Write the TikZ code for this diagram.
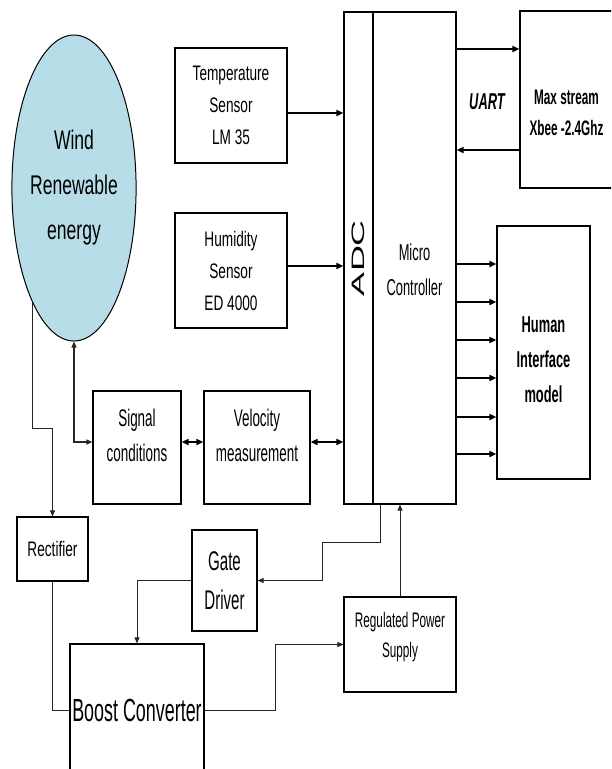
\documentclass[tikz,border=0pt]{standalone}
\usepackage{fontspec}
\setmainfont{Liberation Sans}
\newfontfamily\fw{Liberation Sans}[FakeStretch=0.65]
\newfontfamily\fn{Liberation Sans}[FakeStretch=0.56]
\usetikzlibrary{arrows.meta,shapes.geometric,calc}
\definecolor{windblue}{RGB}{183,222,232}
\begin{document}
\begin{tikzpicture}[x=1pt,y=-1pt,
  blk/.style={draw, line width=1.2pt, inner sep=0pt, align=center, anchor=center},
  con/.style={line width=0.9pt, draw=black!85},
  thk/.style={line width=1.7pt, draw=black},
  tipa/.style={-{Triangle[length=7pt,width=6pt]}},
  tipb/.style={{Triangle[length=7pt,width=6pt]}-{Triangle[length=7pt,width=6pt]}},
  tipc/.style={-{Triangle[length=6pt,width=5pt]}},
  tipd/.style={{Triangle[length=6pt,width=5pt]}-{Triangle[length=6pt,width=5pt]}}]
\useasboundingbox (0,0) rectangle (611,769);
\clip (0,0) rectangle (611,769);
\fill[white] (0,0) rectangle (611,769);

% nodes
\node[ellipse, draw, line width=1pt, fill=windblue, minimum width=98pt, minimum height=306pt,
  inner sep=0pt, align=center, font={\fw\fontsize{27}{45}\selectfont}] (wind) at (74,188) {Wind\\Renewable\\energy};
\node[blk, minimum width=112pt, minimum height=115pt, font={\fw\fontsize{21}{32}\selectfont}] (temp) at (231,105.5) {Temperature\\Sensor\\LM 35};
\node[blk, minimum width=112pt, minimum height=115pt, font={\fw\fontsize{21}{32}\selectfont}] (hum) at (231,270.5) {Humidity\\Sensor\\ED 4000};
\node[blk, minimum width=29pt, minimum height=492pt, font={\fontsize{18}{20}\selectfont}] (adc) at (358.5,258) {\rotatebox{90}{\scalebox{2}[1]{ADC}}};
\node[blk, minimum width=83pt, minimum height=492pt,
  label={[font={\fn\fontsize{23}{35}\selectfont}, align=center, yshift=-11.5pt]center:Micro\\Controller}] (mc) at (414.5,258) {};
\node[blk, minimum width=93pt, minimum height=177pt,
  label={[font={\fn\bfseries\fontsize{21}{31}\selectfont}, align=center, yshift=-13pt]center:Max stream\\Xbee -2.4Ghz}] (xbee) at (566.5,99.5) {};
\node[font={\fn\bfseries\itshape\fontsize{23}{25}\selectfont}] (uart) at (487,102) {UART};
\node[blk, minimum width=93pt, minimum height=253pt,
  label={[font={\fn\bfseries\fontsize{23}{35}\selectfont}, align=center, yshift=-7pt]center:Human\\Interface\\model}] (hi) at (543.5,352.5) {};
\node[blk, minimum width=88pt, minimum height=113pt,
  label={[font={\fn\fontsize{24}{35}\selectfont}, align=center, yshift=12pt]center:Signal\\conditions}] (sig) at (137,447.5) {};
\node[blk, minimum width=106pt, minimum height=113pt,
  label={[font={\fn\fontsize{24}{35}\selectfont}, align=center, yshift=12pt]center:Velocity\\measurement}] (vel) at (257,447.5) {};
\node[blk, minimum width=71pt, minimum height=64pt, font={\fw\fontsize{21}{25}\selectfont}] (rect) at (52.5,549) {Rectifier};
\node[blk, minimum width=65pt, minimum height=101pt, font={\fn\fontsize{27}{39}\selectfont}] (gate) at (224.5,580.5) {Gate\\Driver};
\node[blk, minimum width=134pt, minimum height=132pt, font={\fn\fontsize{32}{36}\selectfont}] (boost) at (137,710) {Boost Converter};
\node[blk, minimum width=112pt, minimum height=95pt,
  label={[font={\fn\fontsize{21}{30}\selectfont}, align=center, yshift=7.5pt]center:Regulated Power\\Supply}] (rps) at (400,644.5) {};

% helper coordinates
\coordinate (yx1) at (0,49);
\coordinate (yx2) at (0,150);
\coordinate (yv) at (0,442);
\coordinate (c1) at (0,428);
\coordinate (x275) at (275,0);
\coordinate (m1) at (380,542);
\coordinate (m2) at (322,542);

% connectors
\draw[thk,tipa] ([yshift=-7.5pt]temp.east) -- ([yshift=-7.5pt]temp.east -| adc.west);
\draw[thk,tipa] ([yshift=4.5pt]hum.east) -- ([yshift=4.5pt]hum.east -| adc.west);
\draw[thk,tipa] (mc.east |- yx1) -- (xbee.west |- yx1);
\draw[thk,tipa] (xbee.west |- yx2) -- (mc.east |- yx2);
\foreach \yy in {264,302,340,378,417,454}{
  \draw[thk,tipa] (mc.east |- 0,\yy) -- (hi.west |- 0,\yy);
}
\draw[thk,tipb] (vel.east |- yv) -- (adc.west |- yv);
\draw[thk,tipb] (sig.east |- yv) -- (vel.west |- yv);
\draw[con,line width=1.2pt,tipd] (wind.south) |- (sig.west |- yv);
\draw[con,tipc] (wind.-110) |- (rect.north |- c1) -- (rect.north);
\draw[con] (rect.south) |- (boost.west);
\draw[con,tipc] (boost.east) -- (boost.east -| x275) |- (rps.west);
\draw[con,tipc] (m1 |- mc.south) -- (m1) -- (m2) |- (gate.east);
\draw[con,tipc] (gate.west) -| (boost.north);
\draw[con,tipc] (rps.north) -- (rps.north |- mc.south);
\end{tikzpicture}
\end{document}
